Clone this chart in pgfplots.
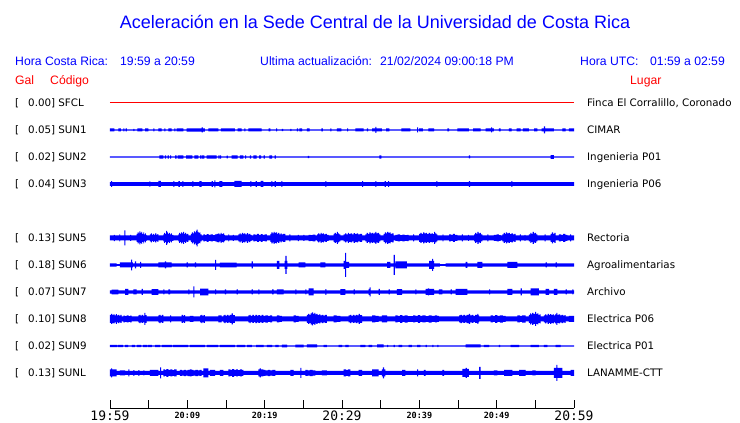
\documentclass[border=0pt]{standalone}
\usepackage{fontspec}
\setmainfont{Liberation Sans}
\newfontfamily\dvs{DejaVu Sans}
\newfontfamily\dvm{DejaVu Sans Mono}
\usepackage{pgfplots}
\pgfplotsset{compat=1.18}
\usepackage{pgfplotstable}
\usepgfplotslibrary{fillbetween}
\definecolor{tblue}{RGB}{0,0,255}
\definecolor{tred}{RGB}{255,0,0}

% t = minutes after 19:59, a = half amplitude of the trace (px)
\pgfplotstableread[row sep=\\]{t a\\
0 1.5\\ 0.56 0.6\\ 1.07 1.5\\ 1.42 0.6\\ 1.72 1.5\\ 1.87 0.6\\ 2.03 1.5\\ 2.18 0.6\\ 3.01 1.2\\ 3.16 0.6\\
3.53 1.5\\ 4.18 0.6\\ 4.53 1.5\\ 4.95 0.6\\ 5.60 1.5\\ 5.75 0.6\\ 6.25 1.5\\ 6.69 0.6\\ 7.02 1.5\\ 7.17 0.6\\
7.54 1.5\\ 7.98 0.6\\ 8.31 1.5\\ 8.46 0.6\\ 8.62 1.5\\ 9.48 0.6\\ 9.92 1.6\\ 11.86 2.5\\ 12.01 1.6\\ 12.28 0.6\\
12.71 1.5\\ 14.00 0.6\\ 14.35 1.5\\ 16.16 0.6\\ 16.51 1.5\\ 17.03 0.6\\ 17.37 1.5\\ 17.52 0.6\\ 17.88 1.5\\ 19.62 0.6\\
20.52 1.5\\ 20.73 0.6\\ 21.47 1.5\\ 21.62 0.6\\ 22.24 1.2\\ 22.39 0.6\\ 23.31 1.2\\ 23.46 0.6\\ 24.18 1.5\\ 24.33 0.6\\
24.48 1.5\\ 24.83 0.6\\ 25.47 1.5\\ 25.82 0.6\\ 27.32 1.5\\ 27.54 0.6\\ 28.49 1.5\\ 28.64 0.6\\ 29.35 1.5\\ 29.91 0.6\\
30.65 1.5\\ 30.80 0.6\\ 31.72 1.5\\ 32.81 0.6\\ 33.23 1.5\\ 33.38 0.6\\ 33.88 1.5\\ 34.31 3\\ 34.46 1.5\\ 35.17 0.6\\
35.69 1.5\\ 36.12 0.6\\ 37.67 1.5\\ 38.83 0.6\\ 39.70 2.5\\ 39.85 0.6\\ 39.96 1.5\\ 40.47 0.6\\ 41.16 1.5\\ 41.90 0.6\\
43.62 1.5\\ 43.84 0.6\\ 44.91 1.5\\ 46.42 0.6\\ 46.94 1.5\\ 47.93 0.6\\ 48.58 1.5\\ 49.27 2.5\\ 49.42 1.5\\ 49.65 0.6\\
50.30 1.5\\ 50.52 0.6\\ 51.59 1.5\\ 51.94 0.6\\ 52.59 1.5\\ 53.11 0.6\\ 53.40 1.5\\ 54.18 0.6\\ 54.83 1.5\\ 55.26 0.6\\
55.82 1.5\\ 56.12 3.5\\ 56.27 1.5\\ 57.41 0.6\\ 58.49 1.5\\ 58.93 0.6\\ 59.35 1.5\\ 60 1.5\\
}\sunone

\pgfplotstableread[row sep=\\]{t a\\
0 0.6\\ 6.37 1.6\\ 6.89 0.6\\ 7.11 1.6\\ 7.26 0.6\\ 7.46 1.6\\ 7.61 0.6\\ 7.76 1.6\\ 7.91 0.6\\ 8.41 1.6\\
8.62 0.6\\ 8.75 1.6\\ 9.48 0.6\\ 9.83 1.6\\ 10.64 0.6\\ 10.90 1.6\\ 11.42 0.6\\ 11.64 1.6\\ 11.79 0.6\\ 11.86 1.6\\
12.19 0.6\\ 12.50 1.6\\ 13.80 0.6\\ 14.00 1.6\\ 14.15 0.6\\ 14.22 1.6\\ 14.37 0.6\\ 15.09 1.4\\ 15.24 0.6\\ 15.74 1.6\\
16.51 0.6\\ 16.81 1.6\\ 17.24 0.6\\ 17.46 1.6\\ 17.61 0.6\\ 18.10 1.6\\ 18.25 0.6\\ 18.53 1.6\\ 18.97 0.6\\ 19.27 1.6\\
19.53 0.6\\ 19.87 1.6\\ 20.02 0.6\\ 20.60 1.6\\ 20.95 0.6\\ 21.30 1.6\\ 21.45 0.6\\ 25.60 1.1\\ 25.75 0.6\\ 34.82 1.6\\
35.08 0.6\\ 46.42 1.5\\ 46.57 0.6\\ 56.99 1.8\\ 57.41 0.6\\ 60 0.6\\
}\suntwo

\pgfplotstableread[row sep=\\]{t a\\
0 1.8\\ 0.13 2.8\\ 0.28 1.8\\ 5.08 2.6\\ 5.23 1.8\\ 6.25 3\\ 6.59 1.8\\ 8.19 2.8\\ 8.34 1.8\\ 8.83 2.8\\
9.05 1.8\\ 9.35 2.8\\ 9.50 1.8\\ 10.64 2.8\\ 10.79 1.8\\ 11.55 2.8\\ 11.86 1.8\\ 13.15 2.8\\ 13.30 1.8\\ 13.49 3.5\\
13.64 1.8\\ 14.13 2.8\\ 14.52 1.8\\ 16.07 3\\ 17.03 1.8\\ 18.14 2.8\\ 18.29 1.8\\ 18.84 2.8\\ 18.99 1.8\\ 19.49 3\\
19.82 1.8\\ 20.86 2.8\\ 21.01 1.8\\ 21.30 2.8\\ 21.45 1.8\\ 22.15 2.8\\ 22.30 1.8\\ 27.84 2.8\\ 27.99 1.8\\ 32.59 2.8\\
32.74 1.8\\ 34.31 2.8\\ 34.46 1.8\\ 35.52 2.8\\ 35.67 1.8\\ 35.95 2.8\\ 36.10 1.8\\ 42.19 2.8\\ 42.34 1.8\\ 46.42 2.8\\
46.57 1.8\\ 51.89 2.8\\ 52.04 1.8\\ 60 1.8\\
}\sunthree

\pgfplotstableread[row sep=\\]{t a\\
0 2.5\\ 0.50 3.2\\ 0.62 2.5\\ 1.20 3.5\\ 1.32 2.5\\ 1.85 7.5\\ 2.00 2.5\\ 2.60 3\\ 2.72 2.5\\
3.45 4\\ 3.58 5.5\\ 3.70 4.5\\ 3.80 6.5\\ 3.92 5\\ 4.05 6\\ 4.17 4\\ 4.30 5.5\\ 4.42 3.5\\ 4.55 4.5\\ 4.65 3\\ 4.75 2.5\\
5.17 3.5\\ 5.30 4.5\\ 5.42 3\\ 5.55 4\\ 5.70 3.2\\ 5.85 4.5\\ 6.00 3\\ 6.12 3.8\\ 6.25 2.5\\
6.89 3.5\\ 7.00 5\\ 7.12 4\\ 7.25 7\\ 7.38 5.5\\ 7.50 4\\ 7.62 5\\ 7.75 3.5\\ 7.88 4.5\\ 8.00 3\\ 8.19 2.5\\
8.83 3.5\\ 8.95 5\\ 9.08 4\\ 9.20 5.5\\ 9.33 4.5\\ 9.45 6\\ 9.58 4\\ 9.70 5\\ 9.83 3.5\\ 9.95 4\\ 10.12 2.5\\
10.47 4\\ 10.60 5.5\\ 10.72 4.5\\ 10.85 6.5\\ 10.97 5.5\\ 11.10 7\\ 11.21 8.3\\ 11.33 6\\ 11.45 5\\ 11.58 5.5\\ 11.70 3.5\\ 11.86 2.5\\
12.06 3.5\\ 12.30 2.8\\ 12.50 3.8\\ 12.75 3\\ 13.00 3.5\\ 13.30 2.8\\ 13.55 3.5\\ 13.80 4.2\\ 14.00 4.5\\ 14.15 3.5\\ 14.30 5\\ 14.45 3.8\\ 14.60 4.5\\ 14.75 3.2\\ 14.87 2.5\\
15.30 3.5\\ 15.42 2.5\\ 15.90 3\\ 16.02 2.5\\
16.59 3.5\\ 16.75 4.5\\ 16.90 3.5\\ 17.05 5\\ 17.20 4\\ 17.35 4.5\\ 17.50 3.5\\ 17.70 4.8\\ 17.85 3.5\\ 18.00 4.2\\ 18.15 3\\ 18.32 2.5\\
18.53 3.5\\ 18.80 3\\ 19.00 4\\ 19.25 3.2\\ 19.50 3.8\\ 19.75 3\\ 20.00 3.5\\ 20.30 2.5\\
20.73 4\\ 20.88 5.5\\ 21.02 4.5\\ 21.15 6\\ 21.30 5\\ 21.45 5.5\\ 21.60 4\\ 21.75 5\\ 21.90 3.5\\ 22.05 4.5\\ 22.20 3.5\\ 22.40 4\\ 22.67 2.5\\
23.20 3.5\\ 23.32 2.5\\ 24.30 3.2\\ 24.42 2.5\\ 25.00 3\\ 25.12 2.5\\
25.69 3.2\\ 25.95 2.8\\ 26.20 3.3\\ 26.55 2.5\\
26.77 3.5\\ 26.92 4.5\\ 27.07 3.5\\ 27.22 5\\ 27.37 4\\ 27.52 4.5\\ 27.67 3.5\\ 27.85 4\\ 28.05 3\\ 28.28 2.5\\
28.93 4\\ 29.05 5\\ 29.20 4.2\\ 29.35 6\\ 29.48 4.5\\ 29.62 3.5\\ 29.78 2.5\\
30.22 3.5\\ 30.40 4.5\\ 30.55 3.5\\ 30.75 5\\ 30.90 4\\ 31.10 4.5\\ 31.30 3.5\\ 31.50 4.8\\ 31.70 3.8\\ 31.90 4.5\\ 32.10 3.5\\ 32.30 4\\ 32.59 2.5\\
33.01 3.5\\ 33.20 5\\ 33.35 4\\ 33.55 5.5\\ 33.70 4.5\\ 33.90 5\\ 34.05 4\\ 34.20 5\\ 34.31 6\\ 34.45 4.5\\ 34.60 5\\ 34.80 3.5\\ 34.95 2.5\\
35.39 4\\ 35.55 5.5\\ 35.70 4.5\\ 35.85 6\\ 36.00 5\\ 36.15 5.5\\ 36.30 4\\ 36.45 4.5\\ 36.69 2.5\\
36.89 3\\ 37.20 3.5\\ 37.50 2.8\\ 37.80 3.3\\ 38.10 2.8\\ 38.40 3.2\\ 38.63 2.5\\ 39.20 3.5\\ 39.32 2.5\\
39.96 4\\ 40.15 5\\ 40.30 4\\ 40.50 5.5\\ 40.65 4.5\\ 40.85 5\\ 41.00 3.8\\ 41.20 5\\ 41.40 4\\ 41.60 4.5\\ 41.75 3.8\\ 41.90 6\\ 42.05 4.5\\ 42.20 3.5\\ 42.32 2.5\\
43.00 3.5\\ 43.12 2.5\\ 43.84 3.5\\ 44.10 3\\ 44.35 4\\ 44.60 3\\ 44.91 2.5\\ 45.50 3.5\\ 45.62 2.5\\ 46.30 3\\ 46.42 2.5\\
47.07 3.5\\ 47.22 5\\ 47.37 4\\ 47.52 6\\ 47.67 4.5\\ 47.82 5\\ 47.97 3.5\\ 48.14 2.5\\ 48.80 3.5\\ 48.92 2.5\\
49.65 3\\ 50.00 3.5\\ 50.30 2.8\\ 50.52 2.5\\
50.73 3.5\\ 50.90 5\\ 51.05 4\\ 51.20 5.5\\ 51.35 4.5\\ 51.55 5\\ 51.70 3.8\\ 51.90 4.5\\ 52.10 3.5\\ 52.30 4\\ 52.46 2.5\\
53.00 3.5\\ 53.12 2.5\\ 53.60 3\\ 53.72 2.5\\
54.18 3.5\\ 54.35 5\\ 54.50 4\\ 54.65 6\\ 54.80 4.5\\ 54.95 5\\ 55.10 3.5\\ 55.26 2.5\\ 56.20 3.5\\ 56.32 2.5\\
56.99 4\\ 57.15 5.5\\ 57.30 4\\ 57.45 5\\ 57.63 2.5\\
58.06 3.5\\ 58.35 3\\ 58.60 4\\ 58.90 3\\ 59.13 2.5\\ 59.50 3.5\\ 59.62 2.5\\ 60 2.5\\
}\sunfive

\pgfplotstableread[row sep=\\]{t a\\
0 1.7\\ 0.87 0.8\\ 1.29 2.5\\ 2.72 5.3\\ 2.87 2.5\\ 2.95 1.7\\ 3.23 3.5\\ 3.38 1.7\\ 3.88 3\\ 4.03 1.7\\
6.25 2.5\\ 7.11 3.5\\ 7.26 2.5\\ 7.98 1.7\\ 9.92 2.5\\ 10.07 1.7\\ 10.99 2.5\\ 11.14 1.7\\ 13.58 5\\ 13.73 1.7\\
14.22 2.3\\ 16.38 1.7\\ 18.32 3.5\\ 18.47 1.7\\ 21.59 4\\ 21.89 1.7\\ 22.59 4\\ 22.69 9\\ 22.84 4\\ 22.95 1.7\\
24.40 2.5\\ 25.25 1.7\\ 27.19 2.5\\ 27.84 1.7\\ 30.22 4\\ 30.39 12\\ 30.54 3\\ 30.91 1.7\\ 35.82 3\\ 36.25 1.7\\
36.69 10\\ 36.84 1.7\\ 36.89 3.5\\ 38.40 1.7\\ 41.25 4\\ 41.64 6\\ 41.79 4\\ 41.90 1.7\\ 42.67 0.8\\ 43.41 1.7\\
46.00 3\\ 46.20 1.7\\ 47.50 3\\ 48.14 1.7\\ 51.37 3\\ 52.67 1.7\\ 56.34 2.5\\ 56.49 1.7\\ 57.63 2.5\\ 57.78 1.7\\
60 1.7\\
}\sunsix

\pgfplotstableread[row sep=\\]{t a\\
0 1.7\\ 0.22 2.3\\ 1.07 1.7\\ 1.94 3\\ 2.37 1.7\\ 3.01 2.5\\ 3.45 1.7\\ 4.10 3\\ 4.25 1.7\\ 5.39 2.8\\
6.25 1.7\\ 6.89 2.5\\ 7.04 1.7\\ 7.54 2.5\\ 7.76 1.7\\ 10.12 2.5\\ 10.27 1.7\\ 10.77 5.5\\ 10.92 1.7\\ 11.64 3.3\\
12.71 1.7\\ 13.58 2.5\\ 13.73 1.7\\ 14.87 2.5\\ 15.02 1.7\\ 16.38 2.5\\ 16.53 1.7\\ 18.32 2.5\\ 18.47 1.7\\ 19.18 2.5\\
19.33 1.7\\ 20.95 2.5\\ 21.17 1.7\\ 21.59 2.5\\ 22.46 1.7\\ 23.96 2.5\\ 24.11 1.7\\ 25.25 2.5\\ 25.40 1.7\\ 25.69 3.5\\
26.34 1.7\\ 27.84 2.8\\ 27.99 1.7\\ 29.78 2.8\\ 30.43 1.7\\ 31.51 2.5\\ 31.66 1.7\\ 33.45 3\\ 33.56 4.5\\ 33.71 1.7\\
34.75 3\\ 34.90 1.7\\ 36.04 2.5\\ 36.19 1.7\\ 37.11 2.8\\ 37.76 1.7\\ 39.48 2.5\\ 39.63 1.7\\ 40.82 3\\ 41.12 3.5\\
41.27 3\\ 41.90 1.7\\ 42.54 2.5\\ 42.97 1.7\\ 44.06 2.5\\ 44.21 1.7\\ 44.70 3\\ 46.20 1.7\\ 49.01 2.5\\ 49.16 1.7\\
51.37 3\\ 52.02 1.7\\ 53.11 3.5\\ 53.26 1.7\\ 54.40 3.5\\ 55.47 1.7\\ 56.34 3\\ 56.77 1.7\\ 57.41 3\\ 57.84 1.7\\
58.93 2.5\\ 59.08 1.7\\ 59.78 2.5\\ 59.93 1.7\\ 60 1.7\\
}\sunseven

\pgfplotstableread[row sep=\\]{t a\\
0 4\\ 0.15 5\\ 0.30 3.8\\ 0.45 4.5\\ 0.60 3.5\\ 0.75 4.8\\ 0.90 3.5\\ 1.05 4.2\\ 1.20 3.2\\ 1.35 4\\ 1.51 2.5\\
1.72 3.3\\ 1.95 2.8\\ 2.15 3.5\\ 2.40 2.8\\ 2.60 3.3\\ 2.81 2.5\\
3.66 3.5\\ 3.80 4.2\\ 3.95 3.2\\ 4.10 4\\ 4.25 3.3\\ 4.44 6\\ 4.56 3.8\\ 4.75 2.5\\
6.25 3.5\\ 6.40 4.2\\ 6.55 3.2\\ 6.70 4\\ 6.89 2.5\\ 7.76 3.5\\ 7.91 2.5\\
9.27 4\\ 9.45 3.2\\ 9.58 3.8\\ 9.70 2.5\\ 10.34 3\\ 10.77 2.5\\
11.64 3.5\\ 11.80 4.2\\ 11.95 3.2\\ 12.10 3.8\\ 12.28 2.5\\ 14.00 3.5\\ 14.44 2.5\\
14.65 3.5\\ 14.80 4.2\\ 14.95 3.2\\ 15.10 4\\ 15.30 3.3\\ 15.50 4\\ 15.74 5.5\\ 15.89 3.8\\ 16.16 2.5\\
17.88 3.5\\ 18.05 4.2\\ 18.20 3.2\\ 18.40 4\\ 18.60 3.2\\ 18.80 4.2\\ 19.00 3.3\\ 19.20 3.8\\ 19.40 3.2\\ 19.60 4\\ 19.82 3.2\\ 20.10 3.7\\ 20.40 3\\ 20.70 3.5\\ 20.95 2.5\\
21.59 3.5\\ 21.90 3\\ 22.24 2.5\\ 23.75 3.5\\ 24.05 3\\ 24.40 2.5\\
25.47 4\\ 25.62 5\\ 25.77 4\\ 25.95 5.5\\ 26.12 6.5\\ 26.27 5\\ 26.42 6\\ 26.55 4.5\\ 26.70 5\\ 26.85 3.8\\ 27.00 4.5\\ 27.20 3.5\\ 27.40 4.2\\ 27.60 3.3\\ 27.80 4\\ 28.06 2.5\\
28.93 3.5\\ 29.30 3\\ 29.78 2.5\\
30.87 3.5\\ 31.05 4.2\\ 31.20 3.2\\ 31.40 4\\ 31.60 3.3\\ 31.80 4.2\\ 32.00 3.5\\ 32.16 5\\ 32.31 3.8\\ 32.59 2.5\\
33.88 3.5\\ 34.30 3\\ 34.75 2.5\\ 35.17 3.5\\ 35.82 2.5\\
36.89 3.5\\ 37.20 3\\ 37.50 3.8\\ 37.80 3\\ 38.10 3.6\\ 38.50 2.8\\ 39.20 3.5\\ 39.50 3\\ 39.80 3.8\\ 40.10 3\\ 40.40 3.5\\ 40.80 2.9\\ 41.20 3.6\\ 41.60 3\\ 42.00 3.5\\ 42.30 3\\ 42.54 2.5\\
45.13 3.5\\ 45.30 4.2\\ 45.50 3.3\\ 45.70 4\\ 45.90 3.3\\ 46.10 4.2\\ 46.42 5\\ 46.57 3.5\\ 46.80 4\\ 47.00 3.2\\ 47.20 4\\ 47.50 5\\ 47.65 3.5\\ 47.72 2.5\\
49.23 3.5\\ 49.50 3\\ 49.80 3.8\\ 50.10 3\\ 50.40 3.6\\ 50.80 3\\ 51.17 2.5\\
52.67 3.5\\ 53.00 3\\ 53.30 3.6\\ 53.75 2.5\\
54.18 4\\ 54.32 5.5\\ 54.46 4.5\\ 54.60 6\\ 54.75 5\\ 54.96 7\\ 55.10 5\\ 55.25 5.5\\ 55.40 4\\ 55.55 4.5\\ 55.69 2.5\\
56.12 3.5\\ 56.28 4.5\\ 56.44 3.5\\ 56.60 5\\ 56.76 4\\ 56.92 4.8\\ 57.08 3.8\\ 57.25 4.5\\ 57.40 3.5\\ 57.55 4.5\\ 57.71 6\\ 57.86 4\\ 58.02 4.5\\ 58.20 3.5\\ 58.40 4.2\\ 58.60 3.3\\ 58.80 3.8\\ 58.93 2.5\\
59.35 3\\ 60 3\\
}\suneight

\pgfplotstableread[row sep=\\]{t a\\
0 1.2\\ 0.91 0.6\\ 1.03 1.2\\ 1.68 0.6\\ 1.94 1.2\\ 2.33 0.6\\ 2.84 1.2\\ 3.23 0.6\\ 3.49 1.2\\ 4.01 0.6\\
4.27 1.2\\ 4.79 0.6\\ 4.91 1.2\\ 5.43 0.6\\ 5.82 1.2\\ 6.47 0.6\\ 6.72 1.2\\ 8.02 0.6\\ 8.15 1.2\\ 10.09 0.6\\
10.34 1.2\\ 12.28 0.6\\ 12.54 1.2\\ 13.97 0.6\\ 14.22 1.2\\ 16.16 0.6\\ 16.42 1.2\\ 17.46 0.6\\ 17.72 1.2\\ 18.36 0.6\\
18.88 1.2\\ 19.87 0.6\\ 20.30 1.2\\ 20.95 0.6\\ 21.37 1.2\\ 21.81 0.6\\ 22.24 1.3\\ 22.89 0.6\\ 23.96 1.3\\ 25.05 0.6\\
25.47 1.5\\ 26.77 0.6\\ 27.63 1.2\\ 28.06 0.6\\ 29.57 1.2\\ 30.00 0.6\\ 30.43 1.2\\ 30.87 0.6\\ 32.37 1.2\\ 33.01 0.6\\
33.45 1.2\\ 33.88 0.6\\ 34.53 1.5\\ 35.39 0.6\\ 35.82 1.2\\ 35.97 0.6\\ 36.69 1.2\\ 36.84 0.6\\ 37.33 1.2\\ 37.76 0.6\\
38.63 1.2\\ 39.05 0.6\\ 39.70 1.2\\ 40.12 0.6\\ 40.82 1.2\\ 40.97 0.6\\ 41.68 1.2\\ 41.83 0.6\\ 42.32 1.2\\ 42.47 0.6\\
46.00 1.5\\ 47.93 0.6\\ 48.36 1.2\\ 49.01 0.6\\ 50.30 1.2\\ 50.45 0.6\\ 51.81 1.2\\ 52.89 0.6\\ 54.40 1.2\\ 55.47 0.6\\
56.12 1.2\\ 56.55 0.6\\ 57.63 1.2\\ 58.28 0.6\\ 60 0.6\\
}\sunnine

\pgfplotstableread[row sep=\\]{t a\\
0 3.5\\ 0.13 4.5\\ 0.28 3.5\\ 0.87 2\\ 1.29 2.5\\ 1.94 2\\ 2.37 3.5\\ 2.52 2\\ 3.01 2.8\\ 3.16 2\\
3.66 2.8\\ 3.81 2\\ 4.31 2.5\\ 4.46 2\\ 5.17 3\\ 6.25 2\\ 6.47 5.5\\ 6.62 2\\
6.89 3.5\\ 7.10 3\\ 7.30 3.8\\ 7.55 3\\ 7.80 3.5\\ 8.05 2.8\\ 8.30 3.5\\ 8.62 2\\
9.05 3\\ 9.30 2.6\\ 9.55 3.2\\ 9.80 2.6\\ 10.05 3.2\\ 10.34 3.5\\ 10.55 3\\ 10.77 2.7\\ 11.05 3.2\\ 11.35 2.6\\ 11.60 3\\ 11.86 2\\
12.06 4.5\\ 12.71 2\\ 12.93 3\\ 13.58 2\\ 14.22 3\\ 14.65 2\\
15.30 3.5\\ 15.55 3\\ 15.80 3.8\\ 16.05 3\\ 16.30 3.5\\ 16.55 2.8\\ 16.80 3.5\\ 17.05 3\\ 17.24 2\\
19.18 3.5\\ 19.36 4.5\\ 19.51 3.5\\ 19.82 3\\ 20.10 2.6\\ 20.40 3.2\\ 20.70 2.6\\ 21.00 3\\ 21.37 2\\
23.31 3\\ 23.75 2\\ 24.61 5\\ 24.76 2\\ 25.25 3\\ 25.55 2.6\\ 25.85 3.2\\ 26.20 2.6\\ 26.55 2\\ 27.41 2.5\\ 28.06 2\\
30.22 3.5\\ 30.50 3\\ 30.80 3.5\\ 31.07 2\\ 32.16 3\\ 32.59 2\\ 33.88 3.5\\
34.75 2\\ 35.17 3.5\\ 35.30 5.5\\ 35.45 3.5\\ 35.60 2\\ 37.76 3\\ 38.19 2\\ 39.70 3.5\\ 39.85 2\\ 40.60 3\\
40.82 2\\ 42.97 3\\ 43.19 2\\ 45.56 4\\ 46.00 5\\ 46.15 4\\ 46.42 2\\ 47.72 6\\ 47.93 2\\ 49.65 2.5\\
50.08 2\\ 50.95 3\\ 52.02 2\\ 52.89 3\\ 53.75 2\\ 54.61 2.5\\ 55.05 2\\ 57.41 5\\ 57.71 8\\ 57.86 5\\
58.49 2\\ 59.57 3\\ 60 3\\
}\sunl

% #1 table, #2 baseline, #3 path name
\newcommand{\trace}[3]{%
  \addplot[draw=none, const plot, name path=#3u, forget plot] table[x=t, y expr=#2+\thisrow{a}] {#1};
  \addplot[draw=none, const plot, name path=#3l, forget plot] table[x=t, y expr=#2-\thisrow{a}] {#1};
  \addplot[fill=tblue, draw=none, forget plot] fill between[of=#3u and #3l];
}
\newcommand{\BT}[1]{\raisebox{-2pt}{\dvm\fontsize{13}{14}\selectfont #1}}
\newcommand{\ST}[1]{{\dvm\bfseries\fontsize{8.5}{9}\selectfont #1}}

\begin{document}
\begin{tikzpicture}
\begin{axis}[
  at={(0,0)}, anchor=south west,
  width=740pt, height=423pt, scale only axis,
  xmin=-14.224, xmax=81.466, ymin=0, ymax=423,
  hide axis, clip=false]
  \addplot[tred, line width=1pt, forget plot] coordinates {(0,320) (60,320)};
  \trace{\sunone}{293}{a}
  \trace{\suntwo}{266}{b}
  \trace{\sunthree}{239}{c}
  \trace{\sunfive}{185}{d}
  \trace{\sunsix}{158}{e}
  \trace{\sunseven}{131}{f}
  \trace{\suneight}{104}{g}
  \trace{\sunnine}{77}{h}
  \trace{\sunl}{50}{i}
\end{axis}
\begin{axis}[
  at={(110pt,14.5pt)}, anchor=south west,
  width=464pt, height=30pt, scale only axis,
  xmin=0, xmax=60, ymin=0, ymax=1,
  axis y line=none, axis x line=bottom,
  x axis line style={-, line width=1pt, black},
  xtick={0,5,...,60},
  xticklabels={\BT{19:59},,\ST{20:09},,\ST{20:19},,\BT{20:29},,\ST{20:39},,\ST{20:49},,\BT{20:59}},
  tick align=inside, major tick length=8.5pt,
  tick style={black, line width=1pt},
  xticklabel style={anchor=base, yshift=-10pt, inner sep=0pt}]
  \addplot[draw=none] coordinates {(0,0) (60,1)};
\end{axis}

\begin{scope}[every node/.style={inner sep=0pt}]
\node[anchor=base, text=tblue] at (375pt,394pt) {\fontsize{18}{20}\selectfont Aceleración en la Sede Central de la Universidad de Costa Rica};
\begin{scope}[every node/.append style={anchor=base west, text=tblue, font=\fontsize{12.2}{14}\selectfont}]
\node at (15pt,357pt) {Hora Costa Rica:};
\node at (120pt,357pt) {19:59 a 20:59};
\node at (260pt,357pt) {Ultima actualización:};
\node at (380pt,357pt) {21/02/2024 09:00:18 PM};
\node at (580pt,357pt) {Hora UTC:};
\node at (650pt,357pt) {01:59 a 02:59};
\end{scope}
\begin{scope}[every node/.append style={anchor=base west, text=tred, font=\fontsize{12.2}{14}\selectfont}]
\node at (15pt,338pt) {Gal};
\node at (50pt,338pt) {Código};
\node at (630pt,338pt) {Lugar};
\end{scope}
\begin{scope}[every node/.append style={anchor=base west, font=\dvs\fontsize{10.3}{12}\selectfont}]
\foreach \y/\g/\c/\l in {320/0.00/SFCL/{Finca El Corralillo, Coronado},
  293/0.05/SUN1/CIMAR, 266/0.02/SUN2/Ingenieria P01, 239/0.04/SUN3/Ingenieria P06,
  185/0.13/SUN5/Rectoria, 158/0.18/SUN6/Agroalimentarias, 131/0.07/SUN7/Archivo,
  104/0.10/SUN8/Electrica P06, 77/0.02/SUN9/Electrica P01, 50/0.13/SUNL/LANAMME-CTT}{
  \node at (15pt,\y pt) [yshift=-3.7pt] {[};
  \node at (28pt,\y pt) [yshift=-3.7pt] {\g] \c};
  \node at (587pt,\y pt) [yshift=-3.7pt] {\l};
}
\end{scope}
\end{scope}
\pgfresetboundingbox
\path[use as bounding box] (0,0) rectangle (740pt,423pt);
\end{tikzpicture}
\end{document}
